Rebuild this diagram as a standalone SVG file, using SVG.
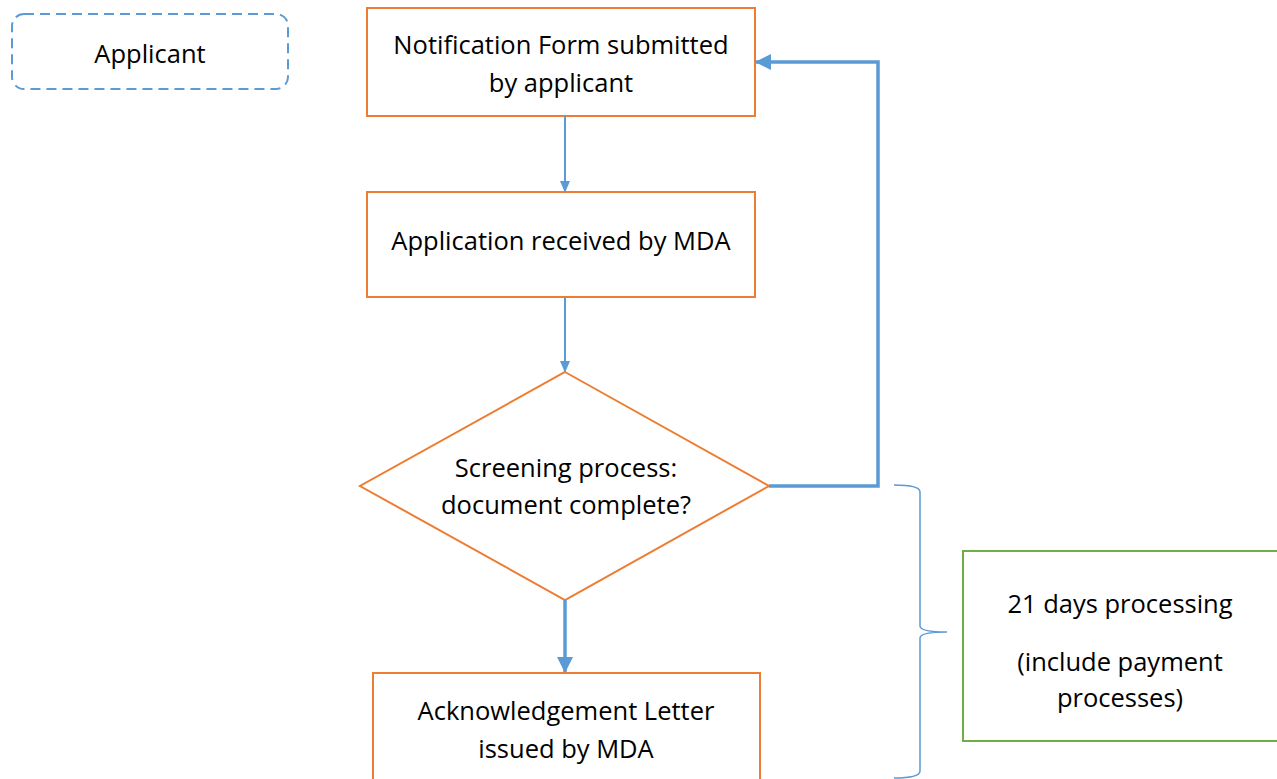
<svg xmlns="http://www.w3.org/2000/svg" width="1277" height="779" viewBox="0 0 1277 779">
<style>
.t{font-family:"Open Sans","Liberation Sans",sans-serif;font-size:25.5px;fill:#000;text-anchor:middle}
.o{fill:#fff;stroke:#ED7D31;stroke-width:2}
.c{fill:none;stroke:#5B9BD5}
</style>
<defs>
<marker id="ah" markerWidth="12" markerHeight="14" refX="12" refY="6" orient="auto" markerUnits="userSpaceOnUse" viewBox="0 0 14 12"><path d="M0,0 L14,6 L0,12 z" fill="#5B9BD5"/></marker>
<marker id="ahb" markerWidth="16" markerHeight="16" refX="15" refY="8" orient="auto" markerUnits="userSpaceOnUse" viewBox="0 0 16 16"><path d="M0,0 L16,8 L0,16 z" fill="#5B9BD5"/></marker>
</defs>
<rect width="1277" height="779" fill="#fff"/>
<g id="applicant">
<rect x="12" y="14" width="276" height="75" rx="12" fill="none" stroke="#5B9BD5" stroke-width="2" stroke-dasharray="10,6"/>
<text class="t" x="150" y="63">Applicant</text>
</g>
<g id="n1">
<rect class="o" x="367" y="8" width="388" height="108"/>
<text class="t" x="561" y="54">Notification Form submitted</text>
<text class="t" x="561" y="92">by applicant</text>
</g>
<g id="n2">
<rect class="o" x="367" y="192" width="388" height="105"/>
<text class="t" x="561" y="250">Application received by MDA</text>
</g>
<g id="n3">
<polygon class="o" points="565,372 769,486 565,600 360,486"/>
<text class="t" x="566" y="477">Screening process:</text>
<text class="t" x="566" y="514">document complete?</text>
</g>
<g id="n4">
<rect class="o" x="373" y="673" width="387" height="120"/>
<text class="t" x="566" y="720">Acknowledgement Letter</text>
<text class="t" x="566" y="758">issued by MDA</text>
</g>
<g id="n5">
<rect x="963" y="551" width="330" height="190" fill="#fff" stroke="#70AD47" stroke-width="2"/>
<text class="t" x="1120" y="613">21 days processing</text>
<text class="t" x="1120" y="671">(include payment</text>
<text class="t" x="1120" y="707">processes)</text>
</g>
<g id="connectors">
<line class="c" x1="565" y1="116" x2="565" y2="191" stroke-width="2" marker-end="url(#ah)"/>
<line class="c" x1="565" y1="297" x2="565" y2="371" stroke-width="2" marker-end="url(#ah)"/>
<polyline class="c" points="769,486 878,486 878,62 756,62" stroke-width="3.5" marker-end="url(#ahb)"/>
<line class="c" x1="565" y1="600" x2="565" y2="672" stroke-width="3.5" marker-end="url(#ahb)"/>
<path class="c" stroke-width="1.5" d="M894,485 Q920,485 920,492 L920,626 Q920,632 947,632 Q920,632 920,638 L920,771 Q920,778 894,778"/>
</g>
</svg>
